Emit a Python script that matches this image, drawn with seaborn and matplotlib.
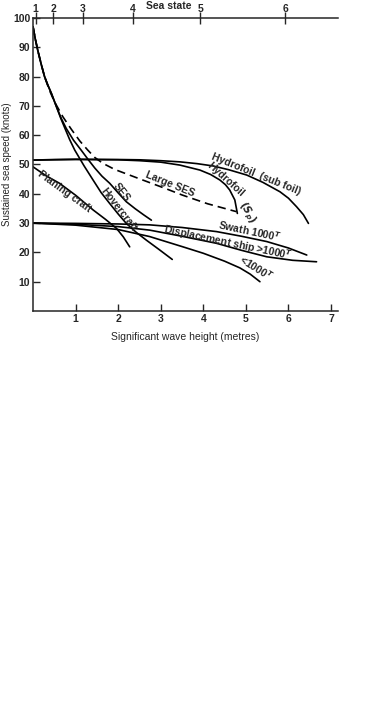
import numpy as np
import pandas as pd
import seaborn as sns
import matplotlib.pyplot as plt

# values (wave height in metres, speed in knots)
hovercraft_x = [0.0, 0.05, 0.11, 0.19, 0.27, 0.35, 0.43, 0.55, 0.65, 0.75, 0.86, 0.98, 1.2, 1.41, 1.6, 1.8, 2.0, 2.19, 2.42, 2.66, 2.95, 3.27]
hovercraft_y = [97, 93, 89, 84.3, 80, 77, 74.3, 69.7, 65.8, 62.3, 58.5, 54.9, 49.5, 44.7, 40.4, 36.7, 33.1, 29.9, 26.9, 24.2, 21.1, 17.6]

ses_x = [0.0, 0.05, 0.11, 0.19, 0.27, 0.35, 0.43, 0.55, 0.66, 0.78, 0.95, 1.13, 1.3, 1.45, 1.62, 1.8, 2.0, 2.19, 2.4, 2.6, 2.78]
ses_y = [97, 93, 89, 84.3, 80, 77, 74.3, 69.7, 65.8, 62.3, 58.3, 54.9, 51.6, 48.8, 46.0, 43.6, 40.3, 37.3, 34.9, 32.8, 31]

large_ses_x = [0.0, 0.05, 0.11, 0.19, 0.27, 0.38, 0.5, 0.7, 0.9, 1.1, 1.28, 1.45, 1.64, 1.92, 2.43, 3.13, 3.5, 4.1, 4.78]
large_ses_y = [97, 93, 89, 84.3, 80, 75.5, 71.5, 66.3, 62, 58, 55.0, 52.4, 50.4, 48.3, 45.5, 41.7, 39.6, 36.6, 33.9]

planing_x = [0.0, 0.3, 0.62, 1.0, 1.41, 1.7, 1.96, 2.12, 2.27]
planing_y = [49.2, 46.2, 43.6, 39.5, 34.5, 31.3, 28.2, 25.3, 21.9]

hydro_sub_x = [0.0, 0.5, 1.0, 2.0, 2.5, 3.0, 3.45, 3.85, 4.23, 4.6, 5.02, 5.4, 5.8, 6.0, 6.19, 6.35, 6.47]
hydro_sub_y = [51.5, 51.7, 51.8, 51.7, 51.6, 51.3, 50.9, 50.3, 49.5, 48.2, 46.4, 43.9, 40.7, 38.5, 35.6, 32.9, 29.9]

hydro_sp_x = [0.0, 1.0, 2.0, 2.5, 3.0, 3.45, 3.92, 4.17, 4.39, 4.52, 4.62, 4.74, 4.8]
hydro_sp_y = [51.5, 51.7, 51.6, 51.3, 50.8, 49.8, 48.1, 46.6, 44.7, 43.1, 41.3, 37.9, 33.3]

swath_x = [0.0, 1.0, 2.0, 2.74, 3.5, 4.31, 4.9, 5.49, 6.0, 6.43]
swath_y = [30, 29.9, 29.7, 29.4, 28.5, 27.1, 25.5, 23.7, 21.5, 19.1]

disp_big_x = [0.0, 1.0, 2.0, 2.74, 3.5, 4.31, 4.9, 5.49, 6.1, 6.66]
disp_big_y = [30, 29.6, 28.8, 27.6, 25.5, 23.1, 20.7, 18.5, 17.3, 16.8]

disp_small_x = [0.0, 1.0, 2.0, 2.74, 3.52, 4.0, 4.5, 4.86, 5.1, 5.33]
disp_small_y = [30, 29.3, 27.8, 25.4, 21.9, 19.7, 17.0, 14.7, 12.6, 10.0]

sea_state_pos = [0.06, 0.48, 1.17, 2.35, 3.93, 5.93]
sea_state_labels = ['1', '2', '3', '4', '5', '6']

x_ticks = [1, 2, 3, 4, 5, 6, 7]
y_ticks = [10, 20, 30, 40, 50, 60, 70, 80, 90, 100]

sns.set_style("ticks")
plt.rcParams['font.family'] = ['Liberation Sans', 'DejaVu Sans']
plt.rcParams['font.weight'] = 'bold'

fig = plt.figure(figsize=(3.8, 7.06), dpi=100)
ax = fig.add_axes([0.087, 0.5595, 0.802, 0.415])

curves = [
    (hovercraft_x, hovercraft_y, '-'),
    (ses_x, ses_y, '-'),
    (large_ses_x, large_ses_y, '--'),
    (planing_x, planing_y, '-'),
    (hydro_sub_x, hydro_sub_y, '-'),
    (hydro_sp_x, hydro_sp_y, '-'),
    (swath_x, swath_y, '-'),
    (disp_big_x, disp_big_y, '-'),
    (disp_small_x, disp_small_y, '-'),
]
for cx, cy, ls in curves:
    df = pd.DataFrame({'h': cx, 'v': cy})
    sns.lineplot(data=df, x='h', y='v', ax=ax, color='black', lw=1.2,
                 linestyle=ls, sort=False, estimator=None)
ax.lines[2].set_dashes((5, 3))

ax.set_xlim(0, 7.16)
ax.set_ylim(0, 100)
ax.set_xticks(x_ticks)
ax.set_yticks(y_ticks)
ax.tick_params(direction='in', length=5, width=1, labelsize=7.5, pad=2)
ax.spines['right'].set_visible(False)
for s in ['left', 'bottom', 'top']:
    ax.spines[s].set_linewidth(1.1)
ax.set_xlabel('Significant wave height (metres)', fontsize=7.5, labelpad=6)
ax.set_ylabel('Sustained sea speed (knots)', fontsize=7, labelpad=1)

top = ax.secondary_xaxis('top')
top.set_xticks(sea_state_pos)
top.set_xticklabels(sea_state_labels)
top.tick_params(direction='inout', length=8, width=1, labelsize=7.5, pad=-1)
top.spines['top'].set_visible(False)
fig.text(168.5 / 380, 1 - 6 / 706, 'Sea state', fontsize=7.5,
         ha='center', va='center')

kw = dict(fontsize=7.5, ha='center', va='center', rotation_mode='anchor')
ax.text(5.25, 46.8, 'Hydrofoil  (sub foil)', rotation=-22, **kw)
ax.text(4.52, 45.0, 'Hydrofoil', rotation=-42, **kw)
ax.text(5.02, 33.6, '$(S_p)$', rotation=-60, **kw)
ax.text(3.21, 43.2, 'Large SES', rotation=-22, **kw)
ax.text(2.08, 40.6, 'SES', rotation=-52, **kw)
ax.text(2.0, 34.6, 'Hovercraft', rotation=-52, **kw)
ax.text(0.74, 40.6, 'Planing craft', rotation=-36, **kw)
ax.text(5.09, 27.4, 'Swath 1000$^T$', rotation=-12, **kw)
ax.text(4.58, 23.3, 'Displacement ship >1000$^T$', rotation=-12, **kw)
ax.text(5.25, 14.8, '<1000$^T$', rotation=-32, **kw)

fig.savefig('out.png', dpi=100)
